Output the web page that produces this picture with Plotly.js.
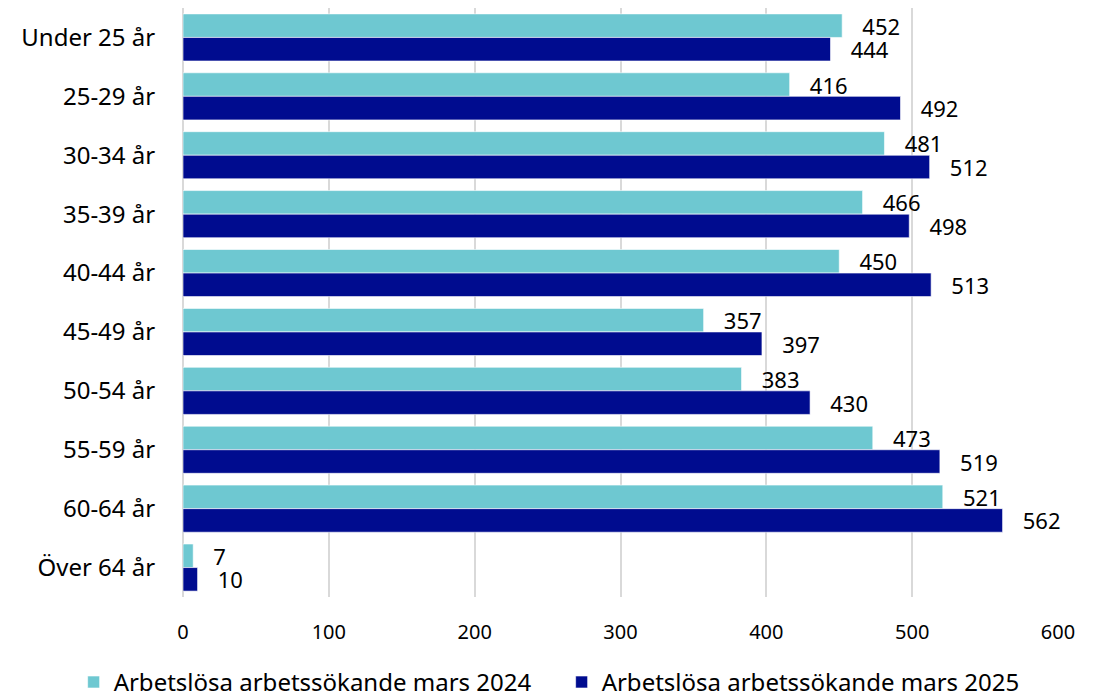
<!DOCTYPE html>
<html><head><meta charset="utf-8">
<script src="https://cdn.plot.ly/plotly-3.0.1.min.js"></script>
<style>body{margin:0;background:#fff}#c{width:1102px;height:698px}</style>
</head><body><div id="c"></div>
<script>
const categories = ["Under 25 år","25-29 år","30-34 år","35-39 år","40-44 år","45-49 år","50-54 år","55-59 år","60-64 år","Över 64 år"];
const values2024 = [452,416,481,466,450,357,383,473,521,7];
const values2025 = [444,492,512,498,513,397,430,519,562,10];
const seriesNames = ["Arbetslösa arbetssökande mars 2024","Arbetslösa arbetssökande mars 2025"];
const xTicks = [0,100,200,300,400,500,600];

const FONT = '"Source Sans Pro","Noto Sans",sans-serif';
function tr(vals, name, color){
  return {type:'bar', orientation:'h', y:categories, x:vals, name:name,
    marker:{color:color, line:{color:'rgba(255,255,255,0.6)', width:1}},
    text: vals.map(v=>'\u00a0\u00a0\u00a0'+v), textposition:'outside', texttemplate:'%{text}',
    constraintext:'none', cliponaxis:false,
    textfont:{family:FONT, size:22, color:'#000'}, hoverinfo:'skip'};
}
const data = [tr(values2024, seriesNames[0], '#6ec8d1'), tr(values2025, seriesNames[1], '#000c8f')];
const layout = {
  width:1102, height:698, margin:{l:183, r:44, t:8, b:101, autoexpand:false},
  paper_bgcolor:'#fff', plot_bgcolor:'#fff',
  font:{family:FONT, color:'#000'},
  barmode:'group', bargap:0.2, bargroupgap:0,
  xaxis:{range:[0,600], tickvals:xTicks, showgrid:true, gridcolor:'#d9d9d9', gridwidth:2,
    zeroline:true, zerolinecolor:'#d9d9d9', zerolinewidth:2, showline:false,
    ticks:'outside', ticklen:17, tickcolor:'rgba(0,0,0,0)', tickfont:{size:20, family:FONT}, fixedrange:true},
  yaxis:{type:'category', autorange:'reversed', showgrid:false, zeroline:false, showline:false,
    ticks:'outside', ticklen:22, tickcolor:'rgba(0,0,0,0)', tickfont:{size:24, family:FONT}, fixedrange:true},
  showlegend:true,
  legend:{orientation:'h', xref:'paper', yref:'paper', x:-0.125, xanchor:'left', y:-0.145, yanchor:'middle',
    font:{size:24, family:FONT}, itemwidth:30, entrywidth:443, traceorder:'normal', bgcolor:'rgba(0,0,0,0)'}
};
Plotly.newPlot('c', data, layout, {displayModeBar:false, staticPlot:true});
</script></body></html>
